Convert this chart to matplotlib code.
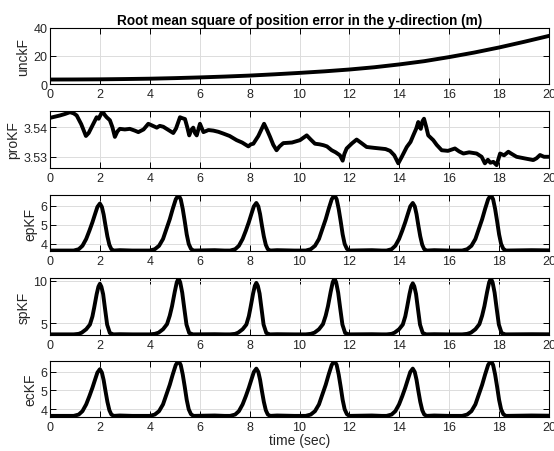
import numpy as np
import matplotlib.pyplot as plt

plt.rcParams['font.family'] = ['Liberation Sans', 'DejaVu Sans']

# unckF: smooth growth of the error (read every 1 s)
unc_t = [0, 1, 2, 3, 4, 5, 6, 7, 8, 9, 10, 11, 12, 13, 14, 15, 16, 17, 18, 19, 20]
unc_v = [3.3, 3.35, 3.45, 3.65, 3.9, 4.3, 4.8, 5.4, 6.1, 7.0, 8.0, 9.1, 10.4,
         12.0, 14.0, 16.3, 19.2, 22.4, 26.0, 30.0, 34.2]

# proKF: jagged trace around 3.53-3.545
pro_t = [0.0, 0.2, 0.4, 0.6, 0.8, 0.95, 1.07, 1.25, 1.44, 1.55, 1.67, 1.87, 1.95,
         2.1, 2.2, 2.27, 2.4, 2.5, 2.6, 2.7, 2.8, 3.0, 3.2, 3.4, 3.54, 3.75, 3.94,
         4.1, 4.28, 4.4, 4.54, 4.75, 4.94, 5.05, 5.21, 5.3, 5.41, 5.5, 5.58, 5.66,
         5.74, 5.81, 5.88, 6.01, 6.15, 6.35, 6.55, 6.75, 6.95, 7.2, 7.48, 7.7,
         7.95, 8.05, 8.15, 8.35, 8.58, 8.7, 8.82, 8.95, 9.08, 9.2, 9.35, 9.7,
         10.02, 10.29, 10.45, 10.62, 10.8, 10.96, 11.1, 11.29, 11.45, 11.62,
         11.73, 11.8, 11.89, 12.1, 12.29, 12.5, 12.69, 13.0, 13.23, 13.45, 13.63,
         13.8, 13.96, 14.1, 14.3, 14.45, 14.56, 14.68, 14.76, 14.82, 14.86,
         14.93, 14.99, 15.08, 15.16, 15.36, 15.5, 15.7, 15.95, 16.23, 16.4,
         16.57, 16.8, 17.1, 17.3, 17.43, 17.55, 17.65, 17.77, 17.9, 18.04,
         18.2, 18.37, 18.5, 18.7, 19.0, 19.37, 19.5, 19.64, 19.8, 19.97]
pro_v = [3.5431, 3.5435, 3.5439, 3.5444, 3.5450, 3.5446, 3.5439, 3.5410, 3.5370,
         3.5380, 3.5400, 3.5433, 3.5428, 3.5453, 3.5440, 3.5433, 3.5423, 3.5400,
         3.5367, 3.5385, 3.5394, 3.5392, 3.5394, 3.5388, 3.5383, 3.5392, 3.5411,
         3.5405, 3.5398, 3.5404, 3.5401, 3.5390, 3.5380, 3.5395, 3.5433, 3.5430,
         3.5427, 3.5400, 3.5372, 3.5390, 3.5398, 3.5380, 3.5372, 3.5411, 3.5383,
         3.5390, 3.5388, 3.5384, 3.5378, 3.5370, 3.5356, 3.5348, 3.5335, 3.5342,
         3.5344, 3.5370, 3.5411, 3.5390, 3.5367, 3.5340, 3.5322, 3.5335, 3.5346,
         3.5348, 3.5356, 3.5372, 3.5358, 3.5344, 3.5342, 3.5339, 3.5335, 3.5322,
         3.5315, 3.5305, 3.5287, 3.5310, 3.5328, 3.5345, 3.5358, 3.5345, 3.5333,
         3.5330, 3.5328, 3.5326, 3.5320, 3.5305, 3.5278, 3.5300, 3.5333, 3.5350,
         3.5372, 3.5395, 3.5417, 3.5400, 3.5394, 3.5420, 3.5428, 3.5400, 3.5372,
         3.5356, 3.5340, 3.5322, 3.5320, 3.5328, 3.5318, 3.5311, 3.5315, 3.5311,
         3.5300, 3.5278, 3.5290, 3.5280, 3.5283, 3.5272, 3.5311, 3.5305, 3.5317,
         3.5310, 3.5300, 3.5295, 3.5289, 3.5295, 3.5306, 3.5300, 3.5300]

# epKF: six peaks, one line of points per peak (ecKF looks the same)
ep_t = [0.0, 0.5,
        0.95, 1.15, 1.3, 1.45, 1.58, 1.7, 1.8, 1.9, 2.0, 2.08, 2.15, 2.22, 2.3, 2.38, 2.46, 2.56,
        2.8, 3.3,
        4.0, 4.2, 4.37, 4.53, 4.67, 4.8, 4.92, 5.04, 5.15, 5.24, 5.32, 5.4, 5.48, 5.56, 5.65, 5.75,
        6.6, 7.0,
        7.22, 7.42, 7.57, 7.72, 7.85, 7.97, 8.07, 8.17, 8.27, 8.35, 8.42, 8.49, 8.57, 8.65, 8.73, 8.83,
        9.1, 9.8,
        10.25, 10.45, 10.62, 10.78, 10.92, 11.05, 11.17, 11.29, 11.4, 11.49, 11.57, 11.65, 11.73, 11.81, 11.9, 12.0,
        12.9, 13.3,
        13.49, 13.69, 13.84, 13.99, 14.12, 14.24, 14.34, 14.44, 14.54, 14.62, 14.69, 14.76, 14.84, 14.92, 15.0, 15.1,
        15.4, 16.0,
        16.52, 16.72, 16.89, 17.05, 17.19, 17.32, 17.44, 17.56, 17.67, 17.76, 17.84, 17.92, 18.0, 18.08, 18.17, 18.27,
        19.3, 20.0]
ep_v = [3.65, 3.65,
        3.65, 3.72, 3.9, 4.26, 4.7, 5.14, 5.55, 5.95, 6.13, 5.95, 5.55, 5.0, 4.4, 3.95, 3.72, 3.65,
        3.67, 3.65,
        3.65, 3.72, 3.9, 4.26, 4.8, 5.3, 5.85, 6.35, 6.58, 6.35, 5.85, 5.2, 4.5, 4.0, 3.74, 3.65,
        3.67, 3.65,
        3.65, 3.72, 3.9, 4.26, 4.7, 5.15, 5.57, 5.98, 6.16, 5.98, 5.57, 5.0, 4.4, 3.95, 3.72, 3.65,
        3.67, 3.65,
        3.65, 3.72, 3.9, 4.26, 4.8, 5.3, 5.85, 6.35, 6.58, 6.35, 5.85, 5.2, 4.5, 4.0, 3.74, 3.65,
        3.67, 3.65,
        3.65, 3.72, 3.9, 4.26, 4.7, 5.15, 5.57, 5.98, 6.16, 5.98, 5.57, 5.0, 4.4, 3.95, 3.72, 3.65,
        3.67, 3.65,
        3.65, 3.72, 3.9, 4.26, 4.8, 5.3, 5.85, 6.35, 6.58, 6.35, 5.85, 5.2, 4.5, 4.0, 3.74, 3.65,
        3.67, 3.66]

# spKF: same timing, sharper and taller peaks
sp_t = [0.0, 0.5,
        0.95, 1.15, 1.27, 1.45, 1.6, 1.7, 1.77, 1.87, 1.94, 2.0, 2.06, 2.13, 2.2, 2.29, 2.4, 2.54,
        2.8, 3.3,
        4.0, 4.2, 4.35, 4.53, 4.69, 4.8, 4.89, 5.0, 5.08, 5.15, 5.22, 5.3, 5.38, 5.47, 5.58, 5.73,
        6.6, 7.0,
        7.22, 7.42, 7.54, 7.72, 7.87, 7.97, 8.04, 8.14, 8.21, 8.27, 8.33, 8.4, 8.47, 8.56, 8.67, 8.81,
        9.1, 9.8,
        10.25, 10.45, 10.6, 10.78, 10.94, 11.05, 11.14, 11.25, 11.33, 11.4, 11.47, 11.55, 11.63, 11.72, 11.83, 11.98,
        12.9, 13.3,
        13.49, 13.69, 13.81, 13.99, 14.14, 14.24, 14.31, 14.41, 14.48, 14.54, 14.6, 14.67, 14.74, 14.83, 14.94, 15.08,
        15.4, 16.0,
        16.52, 16.72, 16.87, 17.05, 17.21, 17.32, 17.41, 17.52, 17.6, 17.67, 17.74, 17.82, 17.9, 17.99, 18.1, 18.25,
        19.3, 20.0]
sp_v = [3.7, 3.7,
        3.7, 3.76, 3.9, 4.3, 4.85, 5.8, 6.83, 8.42, 9.3, 9.65, 9.3, 8.42, 6.83, 4.85, 3.86, 3.7,
        3.72, 3.7,
        3.7, 3.76, 3.9, 4.3, 4.9, 5.9, 7.0, 8.7, 9.8, 10.28, 9.8, 8.6, 6.8, 4.85, 3.86, 3.7,
        3.72, 3.7,
        3.7, 3.76, 3.9, 4.3, 4.85, 5.85, 6.9, 8.5, 9.4, 9.75, 9.4, 8.5, 6.9, 4.85, 3.86, 3.7,
        3.72, 3.7,
        3.7, 3.76, 3.9, 4.3, 4.9, 5.9, 7.0, 8.7, 9.8, 10.28, 9.8, 8.6, 6.8, 4.85, 3.86, 3.7,
        3.72, 3.7,
        3.7, 3.76, 3.9, 4.3, 4.85, 5.82, 6.86, 8.45, 9.35, 9.7, 9.35, 8.45, 6.86, 4.85, 3.86, 3.7,
        3.72, 3.7,
        3.7, 3.76, 3.9, 4.3, 4.9, 5.9, 7.0, 8.7, 9.8, 10.28, 9.8, 8.6, 6.8, 4.85, 3.86, 3.7,
        3.72, 3.71]

ec_t = list(ep_t)
ec_v = list(ep_v)

names = ['unckF', 'proKF', 'epKF', 'spKF', 'ecKF']
series = [(unc_t, unc_v), (pro_t, pro_v), (ep_t, ep_v), (sp_t, sp_v), (ec_t, ec_v)]
ylims = [(0, 40), (3.5263, 3.5453), (3.616, 6.595), (3.65, 10.29), (3.58, 6.58)]
yticks = [[0, 20, 40], [3.53, 3.54], [4, 5, 6], [5, 10], [4, 5, 6]]
ytick_labels = [['0', '20', '40'], ['3.53', '3.54'], ['4', '5', '6'], ['5', '10'], ['4', '5', '6']]
xticks = np.arange(0, 21, 2)

W, H = 554, 452
fig = plt.figure(figsize=(W / 100, H / 100), dpi=100)
tops = [28.7, 112.3, 195.7, 279.3, 361.7]
ax_h = 56.5
tick_col = '#262626'

for i, name in enumerate(names):
    ax = fig.add_axes([50 / W, 1 - (tops[i] + ax_h) / H, 499 / W, ax_h / H])
    t, v = series[i]
    ax.plot(t, v, color='black', lw=2.8, solid_joinstyle='round')
    ax.set_xlim(0, 20)
    ax.set_ylim(*ylims[i])
    ax.set_xticks(xticks)
    ax.set_yticks(yticks[i])
    ax.set_yticklabels(ytick_labels[i])
    ax.grid(True, color='#dcdcdc', lw=0.7)
    ax.set_axisbelow(True)
    ax.tick_params(direction='in', top=True, right=True, length=4, width=0.7,
                   labelsize=9, colors='black', labelcolor=tick_col, pad=3)
    ax.tick_params(axis='y', pad=2)
    for sp in ax.spines.values():
        sp.set_linewidth(0.8)
        sp.set_color('black')
    ax.set_ylabel(name, fontsize=10, color=tick_col, labelpad=2)
    if i == 0:
        ax.set_title('Root mean square of position error in the y-direction (m)',
                     fontsize=9.8, fontweight='bold', pad=3)
    if i == len(names) - 1:
        ax.set_xlabel('time (sec)', fontsize=10, color=tick_col, labelpad=0)

fig.savefig('out.png', dpi=100)
